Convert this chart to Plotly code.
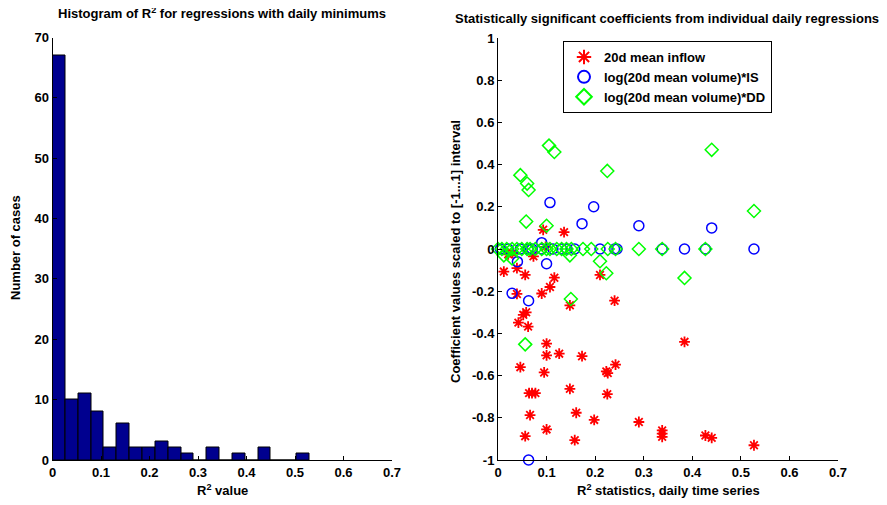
import plotly.graph_objects as go

# histogram of R^2 (20 bins between 0 and ~0.53)
bin_width = 0.0265
bin_left = [0.0, 0.0265, 0.053, 0.0795, 0.106, 0.1325, 0.159, 0.1855, 0.212, 0.2385,
            0.265, 0.2915, 0.318, 0.3445, 0.371, 0.3975, 0.424, 0.4505, 0.477, 0.5035]
bin_counts = [67, 10, 11, 8, 2, 6, 2, 2, 3, 2, 1, 0, 2, 0, 1, 0, 2, 0, 0, 1]

# scatter: 20d mean inflow
inflow_r2 = [0.012, 0.039, 0.056, 0.073, 0.116, 0.107, 0.090, 0.039, 0.21, 0.24, 0.148, 0.058,
             0.052, 0.042, 0.062, 0.10, 0.10, 0.126, 0.173, 0.046, 0.095, 0.223, 0.226, 0.242,
             0.064, 0.070, 0.077, 0.148, 0.225, 0.066, 0.161, 0.198, 0.29, 0.338, 0.338, 0.338,
             0.10, 0.056, 0.158, 0.384, 0.427, 0.44, 0.527, 0.093, 0.136, 0.03, 0.021, 0.098]
inflow_coef = [-0.107, -0.091, -0.123, -0.035, -0.136, -0.18, -0.211, -0.213, -0.123, -0.245, -0.267, -0.30,
               -0.312, -0.349, -0.368, -0.448, -0.504, -0.496, -0.508, -0.56, -0.585, -0.58, -0.588, -0.548,
               -0.683, -0.683, -0.683, -0.663, -0.688, -0.787, -0.776, -0.81, -0.82, -0.86, -0.875, -0.89,
               -0.855, -0.887, -0.906, -0.44, -0.884, -0.895, -0.93, 0.091, 0.08, -0.02, -0.025, 0.01]

# log(20d mean volume)*IS
is_r2 = [0.44, 0.107, 0.197, 0.173, 0.29, 0.09, 0.10, 0.040, 0.029, 0.063, 0.063,
         0.005, 0.021, 0.046, 0.062, 0.07, 0.09, 0.113, 0.131, 0.142, 0.158,
         0.21, 0.24, 0.245, 0.338, 0.384, 0.427, 0.527]
is_coef = [0.10, 0.22, 0.20, 0.12, 0.11, 0.03, -0.07, -0.06, -0.21, -0.245, -1.0,
           0, 0, 0, 0, 0, 0, 0, 0, 0, 0,
           0, 0, 0, 0, 0, 0, 0]

# log(20d mean volume)*DD
dd_r2 = [0.105, 0.116, 0.44, 0.046, 0.06, 0.063, 0.225, 0.058, 0.10, 0.527, 0.384, 0.21,
         0.223, 0.15, 0.056, 0.012, 0.029, 0.148,
         0.0, 0.008, 0.018, 0.029, 0.039, 0.049, 0.06, 0.066, 0.077, 0.09, 0.10, 0.107,
         0.121, 0.131, 0.141, 0.151, 0.175, 0.192, 0.226, 0.242, 0.29, 0.338, 0.427]
dd_coef = [0.49, 0.46, 0.47, 0.35, 0.31, 0.28, 0.37, 0.13, 0.11, 0.18, -0.137, -0.058,
           -0.115, -0.237, -0.452, -0.03, -0.045, -0.03,
           0, 0, 0, 0, 0, 0, 0, 0, 0, 0, 0, 0,
           0, 0, 0, 0, 0, 0, 0, 0, 0, 0, 0]

x_ticks = [0, 0.1, 0.2, 0.3, 0.4, 0.5, 0.6, 0.7]
x_labels = ["0", "0.1", "0.2", "0.3", "0.4", "0.5", "0.6", "0.7"]
hist_y_ticks = [0, 10, 20, 30, 40, 50, 60, 70]
coef_ticks = [-1, -0.8, -0.6, -0.4, -0.2, 0, 0.2, 0.4, 0.6, 0.8, 1]
coef_labels = ["-1", "-0.8", "-0.6", "-0.4", "-0.2", "0", "0.2", "0.4", "0.6", "0.8", "1"]

FONT = "Liberation Sans, Arial, sans-serif"
W, H = 887, 505
OFF = 8  # page body margin shifts the figure by 8px


def px(x):
    return (x - OFF) / W


def py(y):
    return 1 - (y - OFF) / H


fig = go.Figure()

fig.add_trace(go.Bar(
    x=[b + bin_width / 2 for b in bin_left], y=bin_counts, width=bin_width,
    marker=dict(color="#00008F", line=dict(color="black", width=1)),
    xaxis="x", yaxis="y", showlegend=False
))

fig.add_trace(go.Scatter(
    x=inflow_r2, y=inflow_coef, mode="markers", name="20d mean inflow",
    marker=dict(symbol="asterisk-open", size=9, color="red", line=dict(color="red", width=1.8)),
    xaxis="x2", yaxis="y2", cliponaxis=False
))
fig.add_trace(go.Scatter(
    x=is_r2, y=is_coef, mode="markers", name="log(20d mean volume)*IS",
    marker=dict(symbol="circle-open", size=10, color="blue", line=dict(color="blue", width=1.5)),
    xaxis="x2", yaxis="y2", cliponaxis=False
))
fig.add_trace(go.Scatter(
    x=dd_r2, y=dd_coef, mode="markers", name="log(20d mean volume)*DD",
    marker=dict(symbol="diamond-open", size=10, color="#00FF00", line=dict(color="#00FF00", width=1.5)),
    xaxis="x2", yaxis="y2", cliponaxis=False
))

axis_style = dict(showline=True, linecolor="black", linewidth=1, ticks="inside", ticklen=4,
                  tickcolor="black", showgrid=False, zeroline=False, mirror=False,
                  automargin=False,
                  tickfont=dict(family=FONT, size=13, color="black", weight="bold"))

txt = dict(family=FONT, size=13, color="black", weight="bold")
ann = dict(xref="paper", yref="paper", showarrow=False, font=txt, xanchor="center", yanchor="middle")

fig.update_layout(
    width=W, height=H,
    margin=dict(l=0, r=0, t=0, b=0, autoexpand=False),
    paper_bgcolor="white", plot_bgcolor="white",
    font=dict(family=FONT, size=13, color="black"),
    bargap=0,
    xaxis=dict(domain=[px(52.5), px(392)], range=[0, 0.7], tickvals=x_ticks, ticktext=x_labels,
               anchor="y", **axis_style),
    yaxis=dict(domain=[py(460), py(37.5)], range=[0, 70], tickvals=hist_y_ticks,
               anchor="x", **axis_style),
    xaxis2=dict(domain=[px(498), px(838)], range=[0, 0.7], tickvals=x_ticks, ticktext=x_labels,
                anchor="y2", **axis_style),
    yaxis2=dict(domain=[py(460), py(38)], range=[-1, 1], tickvals=coef_ticks, ticktext=coef_labels,
                anchor="x2", **axis_style),
    legend=dict(x=px(563), y=py(41), xanchor="left", yanchor="top", bgcolor="white",
                bordercolor="black", borderwidth=1, font=txt,
                itemsizing="constant", tracegroupgap=0),
    annotations=[
        dict(text="Histogram of R<sup>2</sup> for regressions with daily minimums",
             x=px(222), y=py(13), **ann),
        dict(text="Statistically significant coefficients from individual daily regressions",
             x=px(667), y=py(18), **ann),
        dict(text="Number of cases", x=px(15), y=py(248), textangle=-90, **ann),
        dict(text="Coefficient values scaled to [-1...1] interval", x=px(455), y=py(252),
             textangle=-90, **ann),
        dict(text="R<sup>2</sup> value", x=px(222), y=py(490), **ann),
        dict(text="R<sup>2</sup> statistics, daily time series", x=px(668), y=py(490), **ann),
    ],
)

fig.write_html("out.html")
